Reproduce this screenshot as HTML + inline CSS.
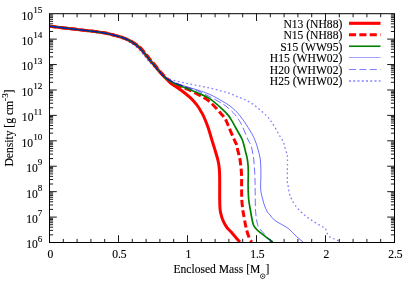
<!DOCTYPE html><html><head><meta charset="utf-8"><title>plot</title><style>
html,body{margin:0;padding:0;background:#fff;}
#p{position:relative;width:415px;height:291px;overflow:hidden;background:#fff;font-family:"Liberation Serif",serif;font-size:11.6px;color:#000;will-change:transform;}
.t{position:absolute;white-space:nowrap;line-height:1;-webkit-text-stroke:0.12px #000;}
.s{font-size:9.2px;position:relative;top:-6.7px;}
</style></head><body><div id="p">
<svg width="415" height="291" viewBox="0 0 415 291" style="position:absolute;left:0;top:0">
<defs><clipPath id="c"><rect x="49.50" y="13.70" width="345.00" height="228.80"/></clipPath></defs>
<path d="M63.30,242.50 v-3.60 M63.30,13.70 v3.60 M77.10,242.50 v-3.60 M77.10,13.70 v3.60 M90.90,242.50 v-3.60 M90.90,13.70 v3.60 M104.70,242.50 v-3.60 M104.70,13.70 v3.60 M118.50,242.50 v-7.30 M118.50,13.70 v7.30 M132.30,242.50 v-3.60 M132.30,13.70 v3.60 M146.10,242.50 v-3.60 M146.10,13.70 v3.60 M159.90,242.50 v-3.60 M159.90,13.70 v3.60 M173.70,242.50 v-3.60 M173.70,13.70 v3.60 M187.50,242.50 v-7.30 M187.50,13.70 v7.30 M201.30,242.50 v-3.60 M201.30,13.70 v3.60 M215.10,242.50 v-3.60 M215.10,13.70 v3.60 M228.90,242.50 v-3.60 M228.90,13.70 v3.60 M242.70,242.50 v-3.60 M242.70,13.70 v3.60 M256.50,242.50 v-7.30 M256.50,13.70 v7.30 M270.30,242.50 v-3.60 M270.30,13.70 v3.60 M284.10,242.50 v-3.60 M284.10,13.70 v3.60 M297.90,242.50 v-3.60 M297.90,13.70 v3.60 M311.70,242.50 v-3.60 M311.70,13.70 v3.60 M325.50,242.50 v-7.30 M325.50,13.70 v7.30 M339.30,242.50 v-3.60 M339.30,13.70 v3.60 M353.10,242.50 v-3.60 M353.10,13.70 v3.60 M366.90,242.50 v-3.60 M366.90,13.70 v3.60 M380.70,242.50 v-3.60 M380.70,13.70 v3.60 M49.50,234.85 h3.60 M394.50,234.85 h-3.60 M49.50,230.37 h3.60 M394.50,230.37 h-3.60 M49.50,227.19 h3.60 M394.50,227.19 h-3.60 M49.50,224.73 h3.60 M394.50,224.73 h-3.60 M49.50,222.72 h3.60 M394.50,222.72 h-3.60 M49.50,221.02 h3.60 M394.50,221.02 h-3.60 M49.50,219.54 h3.60 M394.50,219.54 h-3.60 M49.50,218.24 h3.60 M394.50,218.24 h-3.60 M49.50,217.08 h7.30 M394.50,217.08 h-7.30 M49.50,209.42 h3.60 M394.50,209.42 h-3.60 M49.50,204.95 h3.60 M394.50,204.95 h-3.60 M49.50,201.77 h3.60 M394.50,201.77 h-3.60 M49.50,199.31 h3.60 M394.50,199.31 h-3.60 M49.50,197.30 h3.60 M394.50,197.30 h-3.60 M49.50,195.59 h3.60 M394.50,195.59 h-3.60 M49.50,194.12 h3.60 M394.50,194.12 h-3.60 M49.50,192.82 h3.60 M394.50,192.82 h-3.60 M49.50,191.66 h7.30 M394.50,191.66 h-7.30 M49.50,184.00 h3.60 M394.50,184.00 h-3.60 M49.50,179.53 h3.60 M394.50,179.53 h-3.60 M49.50,176.35 h3.60 M394.50,176.35 h-3.60 M49.50,173.89 h3.60 M394.50,173.89 h-3.60 M49.50,171.87 h3.60 M394.50,171.87 h-3.60 M49.50,170.17 h3.60 M394.50,170.17 h-3.60 M49.50,168.70 h3.60 M394.50,168.70 h-3.60 M49.50,167.40 h3.60 M394.50,167.40 h-3.60 M49.50,166.23 h7.30 M394.50,166.23 h-7.30 M49.50,158.58 h3.60 M394.50,158.58 h-3.60 M49.50,154.10 h3.60 M394.50,154.10 h-3.60 M49.50,150.93 h3.60 M394.50,150.93 h-3.60 M49.50,148.46 h3.60 M394.50,148.46 h-3.60 M49.50,146.45 h3.60 M394.50,146.45 h-3.60 M49.50,144.75 h3.60 M394.50,144.75 h-3.60 M49.50,143.27 h3.60 M394.50,143.27 h-3.60 M49.50,141.97 h3.60 M394.50,141.97 h-3.60 M49.50,140.81 h7.30 M394.50,140.81 h-7.30 M49.50,133.16 h3.60 M394.50,133.16 h-3.60 M49.50,128.68 h3.60 M394.50,128.68 h-3.60 M49.50,125.51 h3.60 M394.50,125.51 h-3.60 M49.50,123.04 h3.60 M394.50,123.04 h-3.60 M49.50,121.03 h3.60 M394.50,121.03 h-3.60 M49.50,119.33 h3.60 M394.50,119.33 h-3.60 M49.50,117.85 h3.60 M394.50,117.85 h-3.60 M49.50,116.55 h3.60 M394.50,116.55 h-3.60 M49.50,115.39 h7.30 M394.50,115.39 h-7.30 M49.50,107.74 h3.60 M394.50,107.74 h-3.60 M49.50,103.26 h3.60 M394.50,103.26 h-3.60 M49.50,100.08 h3.60 M394.50,100.08 h-3.60 M49.50,97.62 h3.60 M394.50,97.62 h-3.60 M49.50,95.61 h3.60 M394.50,95.61 h-3.60 M49.50,93.90 h3.60 M394.50,93.90 h-3.60 M49.50,92.43 h3.60 M394.50,92.43 h-3.60 M49.50,91.13 h3.60 M394.50,91.13 h-3.60 M49.50,89.97 h7.30 M394.50,89.97 h-7.30 M49.50,82.31 h3.60 M394.50,82.31 h-3.60 M49.50,77.84 h3.60 M394.50,77.84 h-3.60 M49.50,74.66 h3.60 M394.50,74.66 h-3.60 M49.50,72.20 h3.60 M394.50,72.20 h-3.60 M49.50,70.18 h3.60 M394.50,70.18 h-3.60 M49.50,68.48 h3.60 M394.50,68.48 h-3.60 M49.50,67.01 h3.60 M394.50,67.01 h-3.60 M49.50,65.71 h3.60 M394.50,65.71 h-3.60 M49.50,64.54 h7.30 M394.50,64.54 h-7.30 M49.50,56.89 h3.60 M394.50,56.89 h-3.60 M49.50,52.41 h3.60 M394.50,52.41 h-3.60 M49.50,49.24 h3.60 M394.50,49.24 h-3.60 M49.50,46.78 h3.60 M394.50,46.78 h-3.60 M49.50,44.76 h3.60 M394.50,44.76 h-3.60 M49.50,43.06 h3.60 M394.50,43.06 h-3.60 M49.50,41.59 h3.60 M394.50,41.59 h-3.60 M49.50,40.29 h3.60 M394.50,40.29 h-3.60 M49.50,39.12 h7.30 M394.50,39.12 h-7.30 M49.50,31.47 h3.60 M394.50,31.47 h-3.60 M49.50,26.99 h3.60 M394.50,26.99 h-3.60 M49.50,23.82 h3.60 M394.50,23.82 h-3.60 M49.50,21.35 h3.60 M394.50,21.35 h-3.60 M49.50,19.34 h3.60 M394.50,19.34 h-3.60 M49.50,17.64 h3.60 M394.50,17.64 h-3.60 M49.50,16.16 h3.60 M394.50,16.16 h-3.60 M49.50,14.86 h3.60 M394.50,14.86 h-3.60" stroke="#000" stroke-width="0.9" fill="none"/>
<g clip-path="url(#c)" fill="none" stroke-linejoin="round">
<path d="M49.50,26.20 C53.57,26.68 66.32,28.20 73.90,29.10 C81.48,30.00 90.32,31.02 95.00,31.60 C99.68,32.18 99.58,32.20 102.00,32.60 C104.42,33.00 107.05,33.45 109.50,34.00 C111.95,34.55 114.30,35.22 116.70,35.90 C119.10,36.58 121.50,37.18 123.90,38.10 C126.30,39.02 128.68,39.97 131.10,41.40 C133.52,42.83 135.98,44.48 138.40,46.70 C140.82,48.92 143.55,52.28 145.60,54.70 C147.65,57.12 149.55,59.80 150.70,61.20 C151.85,62.60 150.95,61.27 152.50,63.10 C154.05,64.93 157.92,69.80 160.00,72.20 C162.08,74.60 163.33,75.78 165.00,77.50 C166.67,79.22 168.33,81.08 170.00,82.50 C171.67,83.92 173.33,84.83 175.00,86.00 C176.67,87.17 178.33,88.30 180.00,89.50 C181.67,90.70 183.33,91.88 185.00,93.20 C186.67,94.52 188.50,96.02 190.00,97.40 C191.50,98.78 192.67,99.98 194.00,101.50 C195.33,103.02 196.83,104.83 198.00,106.50 C199.17,108.17 200.04,109.83 201.00,111.50 C201.96,113.17 202.57,113.83 203.75,116.50 C204.93,119.17 206.74,123.58 208.10,127.50 C209.46,131.42 210.95,136.92 211.90,140.00 C212.85,143.08 213.23,144.17 213.80,146.00 C214.37,147.83 214.80,149.33 215.30,151.00 C215.80,152.67 216.35,154.42 216.80,156.00 C217.25,157.58 217.63,158.83 218.00,160.50 C218.37,162.17 218.73,163.75 219.00,166.00 C219.27,168.25 219.48,170.67 219.60,174.00 C219.72,177.33 219.68,181.75 219.70,186.00 C219.72,190.25 219.63,195.57 219.70,199.50 C219.77,203.43 219.85,207.02 220.10,209.60 C220.35,212.18 220.78,213.35 221.20,215.00 C221.62,216.65 222.03,218.03 222.60,219.50 C223.17,220.97 223.82,222.38 224.60,223.80 C225.38,225.22 226.13,226.55 227.30,228.00 C228.47,229.45 229.92,230.63 231.60,232.50 C233.28,234.37 236.02,237.62 237.40,239.20 C238.78,240.78 239.48,241.53 239.90,242.00" stroke="#ff0000" stroke-width="3"/>
<path d="M49.50,26.20 C53.57,26.68 66.32,28.20 73.90,29.10 C81.48,30.00 90.32,31.02 95.00,31.60 C99.68,32.18 99.58,32.20 102.00,32.60 C104.42,33.00 107.05,33.45 109.50,34.00 C111.95,34.55 114.30,35.22 116.70,35.90 C119.10,36.58 121.50,37.18 123.90,38.10 C126.30,39.02 128.61,40.04 131.10,41.40 C133.59,42.76 136.36,44.11 138.85,46.25 C141.34,48.39 144.00,51.83 146.05,54.25 C148.10,56.67 150.00,59.35 151.15,60.75 C152.30,62.15 151.40,60.82 152.95,62.65 C154.50,64.48 158.37,69.35 160.45,71.75 C162.53,74.15 163.44,75.21 165.45,77.05 C167.46,78.89 170.07,81.31 172.50,82.80 C174.93,84.29 177.40,84.90 180.00,86.00 C182.60,87.10 185.18,88.03 188.10,89.40 C191.02,90.77 194.40,92.53 197.50,94.20 C200.60,95.87 203.85,97.35 206.70,99.40 C209.55,101.45 212.13,104.03 214.60,106.50 C217.07,108.97 219.67,112.03 221.50,114.20 C223.33,116.37 224.35,117.28 225.60,119.50 C226.85,121.72 227.53,124.08 229.00,127.50 C230.47,130.92 233.12,137.08 234.40,140.00 C235.68,142.92 236.12,143.18 236.70,145.00 C237.28,146.82 237.35,148.48 237.90,150.90 C238.45,153.32 239.40,155.67 240.00,159.50 C240.60,163.33 241.23,169.48 241.50,173.90 C241.77,178.32 241.55,181.73 241.60,186.00 C241.65,190.27 241.60,195.50 241.80,199.50 C242.00,203.50 242.52,207.60 242.80,210.00 C243.08,212.40 243.07,211.48 243.50,213.90 C243.93,216.32 244.80,221.53 245.40,224.50 C246.00,227.47 246.38,229.30 247.10,231.70 C247.82,234.10 248.95,237.18 249.70,238.90 C250.45,240.62 251.28,241.48 251.60,242.00" stroke="#ff0000" stroke-width="3" stroke-dasharray="7.2 3.2"/>
<path d="M49.50,26.20 C53.57,26.68 66.32,28.20 73.90,29.10 C81.48,30.00 90.32,31.02 95.00,31.60 C99.68,32.18 99.58,32.20 102.00,32.60 C104.42,33.00 107.05,33.45 109.50,34.00 C111.95,34.55 114.30,35.22 116.70,35.90 C119.10,36.58 121.50,37.18 123.90,38.10 C126.30,39.02 128.68,39.97 131.10,41.40 C133.52,42.83 135.98,44.48 138.40,46.70 C140.82,48.92 143.55,52.28 145.60,54.70 C147.65,57.12 149.55,59.80 150.70,61.20 C151.85,62.60 150.95,61.27 152.50,63.10 C154.05,64.93 157.92,69.80 160.00,72.20 C162.08,74.60 162.92,75.78 165.00,77.50 C167.08,79.22 169.17,80.78 172.50,82.50 C175.83,84.22 180.83,86.09 185.00,87.80 C189.17,89.51 193.33,90.90 197.50,92.75 C201.67,94.60 205.83,96.12 210.00,98.90 C214.17,101.68 219.42,106.62 222.50,109.40 C225.58,112.18 226.93,113.68 228.50,115.60 C230.07,117.52 230.72,118.92 231.90,120.90 C233.08,122.88 234.18,124.98 235.60,127.50 C237.02,130.02 239.27,133.92 240.40,136.00 C241.53,138.08 241.82,138.50 242.40,140.00 C242.98,141.50 243.38,143.08 243.90,145.00 C244.42,146.92 244.95,149.25 245.50,151.50 C246.05,153.75 246.77,156.08 247.20,158.50 C247.63,160.92 247.92,163.43 248.10,166.00 C248.28,168.57 248.30,170.57 248.30,173.90 C248.30,177.23 248.03,181.73 248.10,186.00 C248.17,190.27 248.32,195.50 248.70,199.50 C249.08,203.50 249.97,207.33 250.40,210.00 C250.83,212.67 250.82,213.08 251.30,215.50 C251.78,217.92 252.60,222.40 253.30,224.50 C254.00,226.60 254.53,226.90 255.50,228.10 C256.47,229.30 256.93,229.90 259.10,231.70 C261.27,233.50 266.22,237.18 268.50,238.90 C270.78,240.62 272.08,241.48 272.80,242.00" stroke="#008000" stroke-width="1.7"/>
<path d="M49.50,26.20 C53.57,26.68 66.32,28.20 73.90,29.10 C81.48,30.00 90.32,31.02 95.00,31.60 C99.68,32.18 99.58,32.20 102.00,32.60 C104.42,33.00 107.05,33.45 109.50,34.00 C111.95,34.55 114.30,35.22 116.70,35.90 C119.10,36.58 121.50,37.18 123.90,38.10 C126.30,39.02 128.68,39.97 131.10,41.40 C133.52,42.83 135.98,44.48 138.40,46.70 C140.82,48.92 143.55,52.28 145.60,54.70 C147.65,57.12 149.55,59.80 150.70,61.20 C151.85,62.60 150.95,61.27 152.50,63.10 C154.05,64.93 157.92,69.80 160.00,72.20 C162.08,74.60 162.92,75.90 165.00,77.50 C167.08,79.10 169.17,80.34 172.50,81.80 C175.83,83.26 180.83,84.88 185.00,86.25 C189.17,87.62 193.33,88.62 197.50,90.00 C201.67,91.38 205.83,92.62 210.00,94.50 C214.17,96.38 219.17,99.33 222.50,101.25 C225.83,103.17 227.92,104.49 230.00,106.00 C232.08,107.51 233.43,108.80 235.00,110.30 C236.57,111.80 237.82,113.07 239.40,115.00 C240.98,116.93 243.05,119.82 244.50,121.90 C245.95,123.98 246.87,125.53 248.10,127.50 C249.33,129.47 250.75,131.63 251.90,133.75 C253.05,135.87 254.00,137.67 255.00,140.20 C256.00,142.72 257.00,145.60 257.90,148.90 C258.80,152.20 259.90,155.83 260.40,160.00 C260.90,164.17 260.87,169.57 260.90,173.90 C260.93,178.23 260.58,182.95 260.60,186.00 C260.62,189.05 260.63,189.95 261.00,192.20 C261.37,194.45 262.25,197.37 262.80,199.50 C263.35,201.63 263.57,203.00 264.30,205.00 C265.03,207.00 266.25,209.83 267.20,211.50 C268.15,213.17 268.78,213.55 270.00,215.00 C271.22,216.45 272.55,218.62 274.50,220.20 C276.45,221.78 279.30,223.05 281.70,224.50 C284.10,225.95 286.50,226.97 288.90,228.90 C291.30,230.83 293.68,233.87 296.10,236.10 C298.52,238.33 302.18,241.27 303.40,242.30" stroke="#0000ff" stroke-width="0.85" stroke-opacity="0.68"/>
<path d="M49.50,26.20 C53.57,26.68 66.32,28.20 73.90,29.10 C81.48,30.00 90.32,31.02 95.00,31.60 C99.68,32.18 99.58,32.20 102.00,32.60 C104.42,33.00 107.05,33.45 109.50,34.00 C111.95,34.55 114.30,35.22 116.70,35.90 C119.10,36.58 121.50,37.18 123.90,38.10 C126.30,39.02 128.68,39.97 131.10,41.40 C133.52,42.83 135.98,44.48 138.40,46.70 C140.82,48.92 143.55,52.28 145.60,54.70 C147.65,57.12 149.55,59.80 150.70,61.20 C151.85,62.60 150.95,61.27 152.50,63.10 C154.05,64.93 157.92,69.80 160.00,72.20 C162.08,74.60 162.92,75.87 165.00,77.50 C167.08,79.13 169.17,80.48 172.50,82.00 C175.83,83.52 180.83,85.13 185.00,86.60 C189.17,88.07 193.33,89.08 197.50,90.80 C201.67,92.52 205.83,94.74 210.00,96.90 C214.17,99.06 219.17,101.63 222.50,103.75 C225.83,105.87 227.92,107.79 230.00,109.60 C232.08,111.41 233.58,112.95 235.00,114.60 C236.42,116.25 237.25,117.52 238.50,119.50 C239.75,121.48 240.90,123.08 242.50,126.50 C244.10,129.92 246.65,136.75 248.10,140.00 C249.55,143.25 250.27,142.75 251.20,146.00 C252.13,149.25 253.10,154.85 253.70,159.50 C254.30,164.15 254.57,169.48 254.80,173.90 C255.03,178.32 255.00,180.53 255.10,186.00 C255.20,191.47 255.22,201.50 255.40,206.70 C255.58,211.90 255.83,214.23 256.20,217.20 C256.57,220.17 257.00,222.57 257.60,224.50 C258.20,226.43 258.58,227.12 259.80,228.80 C261.02,230.48 263.45,232.92 264.90,234.60 C266.35,236.28 267.18,237.67 268.50,238.90 C269.82,240.13 272.08,241.48 272.80,242.00" stroke="#0000ff" stroke-width="0.85" stroke-opacity="0.68" stroke-dasharray="7.2 3.2"/>
<path d="M49.50,26.20 C53.57,26.68 66.32,28.20 73.90,29.10 C81.48,30.00 90.32,31.02 95.00,31.60 C99.68,32.18 99.58,32.20 102.00,32.60 C104.42,33.00 107.05,33.45 109.50,34.00 C111.95,34.55 114.30,35.22 116.70,35.90 C119.10,36.58 121.68,37.00 123.90,38.10 C126.12,39.20 127.77,40.88 130.00,42.50 C132.23,44.12 134.88,45.58 137.30,47.80 C139.72,50.02 142.45,53.38 144.50,55.80 C146.55,58.22 148.45,60.90 149.60,62.30 C150.75,63.70 149.67,62.55 151.40,64.20 C153.13,65.85 157.73,69.98 160.00,72.20 C162.27,74.42 163.67,76.43 165.00,77.50 C166.33,78.57 166.75,78.18 168.00,78.60 C169.25,79.02 169.67,79.25 172.50,80.00 C175.33,80.75 180.83,82.17 185.00,83.10 C189.17,84.03 193.33,84.77 197.50,85.60 C201.67,86.43 205.83,87.16 210.00,88.10 C214.17,89.04 219.17,90.37 222.50,91.25 C225.83,92.13 227.55,92.51 230.00,93.40 C232.45,94.29 234.78,95.58 237.20,96.60 C239.62,97.62 242.08,98.37 244.50,99.50 C246.92,100.63 249.30,101.83 251.70,103.40 C254.10,104.97 256.50,106.90 258.90,108.90 C261.30,110.90 264.22,113.55 266.10,115.40 C267.98,117.25 268.80,118.15 270.20,120.00 C271.60,121.85 273.05,124.08 274.50,126.50 C275.95,128.92 277.45,131.97 278.90,134.50 C280.35,137.03 282.12,139.30 283.20,141.70 C284.28,144.10 284.75,146.73 285.40,148.90 C286.05,151.07 286.75,153.02 287.10,154.70 C287.45,156.38 287.45,156.45 287.50,159.00 C287.55,161.55 287.42,166.22 287.40,170.00 C287.38,173.78 287.28,179.03 287.40,181.70 C287.52,184.37 287.85,184.43 288.10,186.00 C288.35,187.57 288.60,189.58 288.90,191.10 C289.20,192.62 289.47,193.78 289.90,195.10 C290.33,196.42 290.58,197.23 291.50,199.00 C292.42,200.77 293.75,203.50 295.40,205.70 C297.05,207.90 299.43,210.27 301.40,212.20 C303.37,214.13 305.02,215.65 307.20,217.30 C309.38,218.95 312.08,220.61 314.50,222.10 C316.92,223.59 319.90,225.20 321.70,226.25 C323.50,227.30 324.47,227.36 325.30,228.40 C326.13,229.44 326.10,231.22 326.70,232.50 C327.30,233.78 327.81,235.10 328.90,236.10 C329.99,237.10 331.20,237.53 333.25,238.50 C335.30,239.47 339.88,241.33 341.20,241.90" stroke="#0000ff" stroke-width="1.3" stroke-opacity="0.5" stroke-dasharray="1.7 2.6"/>
</g>
<rect x="49.50" y="13.70" width="345.00" height="228.80" fill="none" stroke="#000" stroke-width="1"/>
<path d="M349.00,23.30 H380.50" fill="none" stroke="#ff0000" stroke-width="3.1"/>
<path d="M349.00,34.85 H380.50" fill="none" stroke="#ff0000" stroke-width="3" stroke-dasharray="7.1 3.25"/>
<path d="M349.00,46.25 H380.50" fill="none" stroke="#008000" stroke-width="1.6"/>
<path d="M349.00,57.50 H380.50" fill="none" stroke="#0000ff" stroke-width="1" stroke-opacity="0.36"/>
<path d="M349.00,69.50 H380.50" fill="none" stroke="#0000ff" stroke-width="1" stroke-opacity="0.5" stroke-dasharray="7.1 3.25"/>
<path d="M349.00,81.00 H380.50" fill="none" stroke="#0000ff" stroke-width="2" stroke-opacity="0.37" stroke-dasharray="2 2.25"/>
<circle cx="262.7" cy="276.2" r="2.3" fill="none" stroke="#000" stroke-width="0.7"/><circle cx="262.7" cy="276.2" r="0.7" fill="#000"/>
</svg>
<div class="t" style="left:50.40px;top:249.2px;width:40px;margin-left:-20px;text-align:center">0</div>
<div class="t" style="left:119.40px;top:249.2px;width:40px;margin-left:-20px;text-align:center">0.5</div>
<div class="t" style="left:188.40px;top:249.2px;width:40px;margin-left:-20px;text-align:center">1</div>
<div class="t" style="left:257.40px;top:249.2px;width:40px;margin-left:-20px;text-align:center">1.5</div>
<div class="t" style="left:326.40px;top:249.2px;width:40px;margin-left:-20px;text-align:center">2</div>
<div class="t" style="left:395.40px;top:249.2px;width:40px;margin-left:-20px;text-align:center">2.5</div>
<div class="t" style="right:372.70px;top:239.40px;text-align:right">10<span class="s">6</span></div>
<div class="t" style="right:372.70px;top:213.98px;text-align:right">10<span class="s">7</span></div>
<div class="t" style="right:372.70px;top:188.56px;text-align:right">10<span class="s">8</span></div>
<div class="t" style="right:372.70px;top:163.13px;text-align:right">10<span class="s">9</span></div>
<div class="t" style="right:372.70px;top:137.71px;text-align:right">10<span class="s">10</span></div>
<div class="t" style="right:372.70px;top:112.29px;text-align:right">10<span class="s">11</span></div>
<div class="t" style="right:372.70px;top:86.87px;text-align:right">10<span class="s">12</span></div>
<div class="t" style="right:372.70px;top:61.44px;text-align:right">10<span class="s">13</span></div>
<div class="t" style="right:372.70px;top:36.02px;text-align:right">10<span class="s">14</span></div>
<div class="t" style="right:372.70px;top:10.60px;text-align:right">10<span class="s">15</span></div>
<div class="t" style="right:72.70px;top:18.60px;text-align:right">N13 (NH88)</div>
<div class="t" style="right:72.70px;top:30.15px;text-align:right">N15 (NH88)</div>
<div class="t" style="right:72.70px;top:41.55px;text-align:right">S15 (WW95)</div>
<div class="t" style="right:72.70px;top:52.80px;text-align:right">H15 (WHW02)</div>
<div class="t" style="right:72.70px;top:64.80px;text-align:right">H20 (WHW02)</div>
<div class="t" style="right:72.70px;top:76.30px;text-align:right">H25 (WHW02)</div>
<div class="t" style="left:173.4px;top:264.30px">Enclosed Mass [M<span style="display:inline-block;width:5.2px"></span>]</div>
<div class="t" style="left:14.2px;top:128px;transform-origin:0 0;transform:rotate(-90deg) translate(-50%,-10.2px)">Density [g cm<span class="s" style="top:-4.6px">-3</span>]</div>
</div></body></html>
